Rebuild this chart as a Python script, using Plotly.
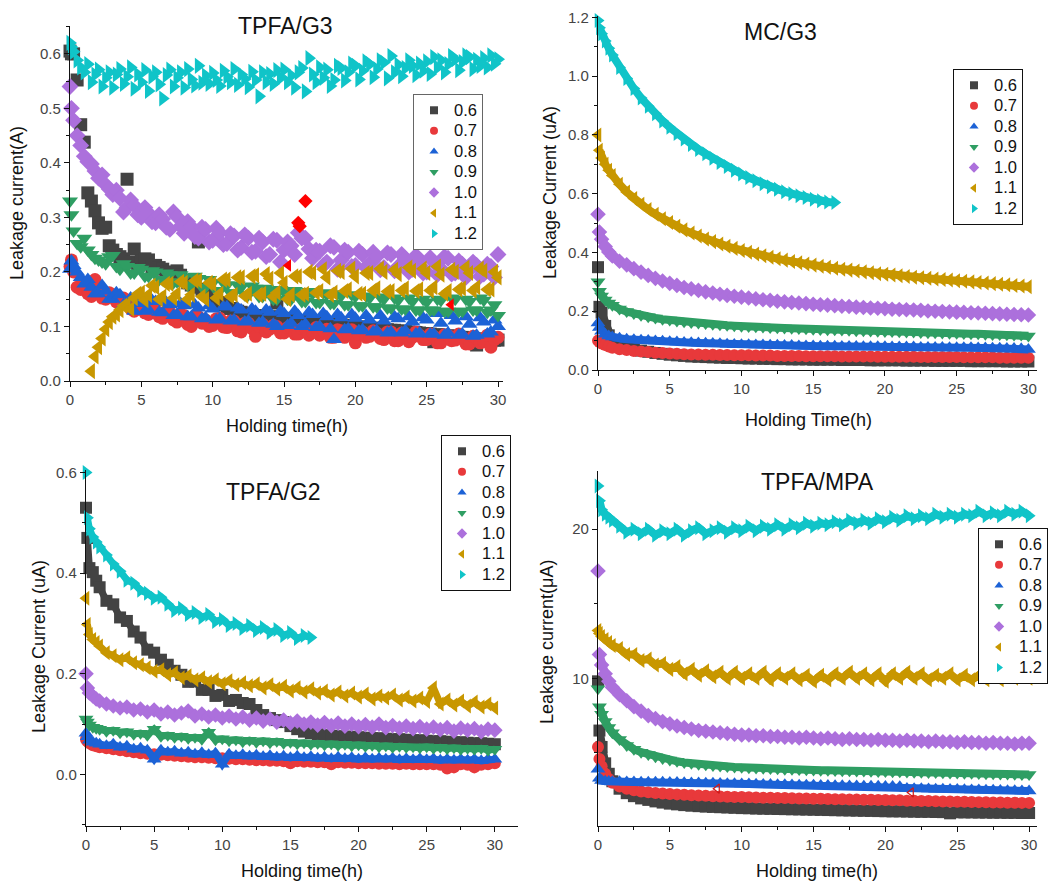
import plotly.graph_objects as go

# ---------------- shared data ----------------
NAMES = ["0.6", "0.7", "0.8", "0.9", "1.0", "1.1", "1.2"]
COLORS = ["#434343", "#e8393b", "#1c62d6", "#2f9e63", "#ac70dc", "#c89700", "#10c4c8"]
SYMBOLS = ["square", "circle", "triangle-up", "triangle-down", "diamond",
           "triangle-left", "triangle-right"]

# time grid (h) used by TPFA/G3
T1 = [0, 0.1, 0.25, 0.5, 0.75,
      1.0, 1.25, 1.5, 1.75, 2.0, 2.25, 2.5, 2.75,
      3.0, 3.25, 3.5, 3.75, 4.0, 4.25, 4.5, 4.75,
      5.0, 5.25, 5.5, 5.75, 6.0, 6.25, 6.5, 6.75,
      7.0, 7.25, 7.5, 7.75, 8.0, 8.25, 8.5, 8.75,
      9.0, 9.25, 9.5, 9.75, 10.0, 10.25, 10.5, 10.75,
      11.0, 11.25, 11.5, 11.75, 12.0, 12.25, 12.5, 12.75,
      13.0, 13.25, 13.5, 13.75, 14.0, 14.25, 14.5, 14.75,
      15.0, 15.25, 15.5, 15.75, 16.0, 16.25, 16.5, 16.75,
      17.0, 17.25, 17.5, 17.75, 18.0, 18.25, 18.5, 18.75,
      19.0, 19.25, 19.5, 19.75, 20.0, 20.25, 20.5, 20.75,
      21.0, 21.25, 21.5, 21.75, 22.0, 22.25, 22.5, 22.75,
      23.0, 23.25, 23.5, 23.75, 24.0, 24.25, 24.5, 24.75,
      25.0, 25.25, 25.5, 25.75, 26.0, 26.25, 26.5, 26.75,
      27.0, 27.25, 27.5, 27.75, 28.0, 28.25, 28.5, 28.75,
      29.0, 29.25, 29.5, 29.75, 30.0]

# time grid (h) used by the other three panels
T = [0, 0.1, 0.25, 0.5, 0.75,
     1.0, 1.5, 2.0, 2.5, 3.0, 3.5, 4.0, 4.5, 5.0, 5.5,
     6.0, 6.5, 7.0, 7.5, 8.0, 8.5, 9.0, 9.5, 10.0, 10.5,
     11.0, 11.5, 12.0, 12.5, 13.0, 13.5, 14.0, 14.5, 15.0, 15.5,
     16.0, 16.5, 17.0, 17.5, 18.0, 18.5, 19.0, 19.5, 20.0, 20.5,
     21.0, 21.5, 22.0, 22.5, 23.0, 23.5, 24.0, 24.5, 25.0, 25.5,
     26.0, 26.5, 27.0, 27.5, 28.0, 28.5, 29.0, 29.5, 30.0]

# ---------------- TPFA/G3 (A) ----------------
g3_06 = [0.605, 0.600, 0.600, 0.552, 0.470,
         0.438, 0.345, 0.330, 0.312, 0.290, 0.280, 0.282, 0.248,
         0.240, 0.232, 0.228, 0.224, 0.370, 0.218, 0.242, 0.214,
         0.220, 0.224, 0.222, 0.210, 0.212, 0.208, 0.205, 0.200,
         0.198, 0.196, 0.202, 0.194, 0.185, 0.180, 0.176, 0.172,
         0.255, 0.168, 0.164, 0.160, 0.152, 0.148, 0.144, 0.140,
         0.136, 0.133, 0.130, 0.128, 0.126, 0.124, 0.122, 0.121,
         0.120, 0.119, 0.118, 0.117, 0.116, 0.118, 0.143, 0.116,
         0.115, 0.114, 0.113, 0.112, 0.111, 0.110, 0.110, 0.109,
         0.108, 0.108, 0.107, 0.106, 0.106, 0.105, 0.104, 0.104,
         0.103, 0.102, 0.102, 0.101, 0.100, 0.099, 0.099, 0.098,
         0.097, 0.097, 0.096, 0.095, 0.095, 0.094, 0.093, 0.093,
         0.092, 0.091, 0.091, 0.090, 0.089, 0.089, 0.088, 0.087,
         0.087, 0.086, 0.072, 0.085, 0.084, 0.083, 0.083, 0.082,
         0.081, 0.081, 0.080, 0.079, 0.079, 0.078, 0.066, 0.077,
         0.077, 0.076, 0.076, 0.075, 0.075]
g3_07 = [0.210, 0.222, 0.200, 0.172, 0.168,
         0.178, 0.160, 0.155, 0.186, 0.168, 0.152, 0.150, 0.162,
         0.158, 0.145, 0.140, 0.152, 0.148, 0.132, 0.128, 0.140,
         0.138, 0.125, 0.122, 0.134, 0.130, 0.118, 0.115, 0.128,
         0.126, 0.112, 0.108, 0.122, 0.120, 0.104, 0.100, 0.118,
         0.118, 0.106, 0.112, 0.100, 0.102, 0.114, 0.115, 0.099,
         0.098, 0.110, 0.110, 0.092, 0.090, 0.106, 0.106, 0.096,
         0.082, 0.100, 0.104, 0.090, 0.095, 0.102, 0.100, 0.088,
         0.088, 0.098, 0.098, 0.086, 0.086, 0.096, 0.096, 0.084,
         0.090, 0.098, 0.084, 0.092, 0.095, 0.080, 0.080, 0.094,
         0.092, 0.080, 0.085, 0.094, 0.070, 0.086, 0.090, 0.080,
         0.082, 0.092, 0.088, 0.078, 0.076, 0.090, 0.090, 0.074,
         0.074, 0.088, 0.086, 0.072, 0.080, 0.090, 0.084, 0.076,
         0.076, 0.086, 0.082, 0.070, 0.070, 0.085, 0.084, 0.074,
         0.075, 0.086, 0.080, 0.068, 0.068, 0.082, 0.078, 0.070,
         0.072, 0.084, 0.062, 0.076, 0.080]
g3_08 = [0.205, 0.220, 0.212, 0.200, 0.190,
         0.178, 0.186, 0.172, 0.160, 0.160, 0.175, 0.165, 0.150,
         0.150, 0.162, 0.158, 0.140, 0.140, 0.152, 0.128, 0.145,
         0.142, 0.128, 0.130, 0.148, 0.146, 0.126, 0.125, 0.144,
         0.140, 0.120, 0.122, 0.142, 0.138, 0.118, 0.118, 0.140,
         0.134, 0.114, 0.116, 0.138, 0.132, 0.112, 0.114, 0.136,
         0.136, 0.110, 0.112, 0.134, 0.130, 0.108, 0.110, 0.132,
         0.128, 0.106, 0.108, 0.130, 0.126, 0.104, 0.100, 0.128,
         0.124, 0.102, 0.106, 0.128, 0.120, 0.100, 0.104, 0.126,
         0.122, 0.098, 0.100, 0.124, 0.118, 0.096, 0.076, 0.122,
         0.116, 0.094, 0.096, 0.122, 0.115, 0.092, 0.094, 0.120,
         0.112, 0.090, 0.092, 0.120, 0.110, 0.088, 0.090, 0.118,
         0.114, 0.088, 0.092, 0.118, 0.108, 0.086, 0.088, 0.116,
         0.112, 0.086, 0.086, 0.124, 0.106, 0.084, 0.088, 0.120,
         0.110, 0.084, 0.086, 0.118, 0.104, 0.082, 0.084, 0.116,
         0.108, 0.086, 0.090, 0.112, 0.100]
g3_09 = [0.330, 0.305, 0.275, 0.252, 0.246,
         0.262, 0.240, 0.232, 0.225, 0.222, 0.218, 0.215, 0.228,
         0.230, 0.210, 0.205, 0.215, 0.210, 0.198, 0.198, 0.208,
         0.205, 0.192, 0.192, 0.202, 0.200, 0.186, 0.186, 0.198,
         0.195, 0.180, 0.182, 0.195, 0.190, 0.176, 0.176, 0.192,
         0.188, 0.172, 0.172, 0.186, 0.180, 0.166, 0.166, 0.180,
         0.176, 0.162, 0.162, 0.176, 0.172, 0.158, 0.158, 0.174,
         0.170, 0.155, 0.155, 0.170, 0.166, 0.150, 0.150, 0.168,
         0.164, 0.150, 0.150, 0.166, 0.162, 0.146, 0.146, 0.164,
         0.160, 0.144, 0.144, 0.162, 0.158, 0.142, 0.142, 0.160,
         0.156, 0.140, 0.140, 0.158, 0.155, 0.138, 0.138, 0.156,
         0.152, 0.136, 0.136, 0.154, 0.150, 0.134, 0.134, 0.152,
         0.148, 0.132, 0.132, 0.152, 0.146, 0.130, 0.130, 0.150,
         0.145, 0.130, 0.130, 0.150, 0.148, 0.128, 0.128, 0.152,
         0.150, 0.128, 0.128, 0.150, 0.146, 0.130, 0.130, 0.152,
         0.148, 0.126, 0.130, 0.140, 0.120]
g3_10 = [0.540, 0.500, 0.478, 0.450, 0.432,
         0.412, 0.402, 0.398, 0.385, 0.372, 0.378, 0.360, 0.352,
         0.342, 0.350, 0.335, 0.310, 0.318, 0.332, 0.322, 0.305,
         0.300, 0.318, 0.308, 0.292, 0.290, 0.305, 0.297, 0.282,
         0.278, 0.310, 0.301, 0.284, 0.271, 0.292, 0.283, 0.265,
         0.262, 0.282, 0.278, 0.255, 0.258, 0.280, 0.272, 0.250,
         0.252, 0.270, 0.266, 0.240, 0.245, 0.268, 0.262, 0.236,
         0.238, 0.262, 0.255, 0.228, 0.232, 0.260, 0.258, 0.218,
         0.240, 0.255, 0.248, 0.232, 0.272, 0.262, 0.262, 0.242,
         0.225, 0.240, 0.238, 0.212, 0.218, 0.248, 0.245, 0.205,
         0.222, 0.240, 0.236, 0.210, 0.212, 0.238, 0.232, 0.208,
         0.215, 0.236, 0.228, 0.204, 0.208, 0.235, 0.232, 0.202,
         0.210, 0.232, 0.224, 0.200, 0.205, 0.230, 0.222, 0.198,
         0.200, 0.226, 0.218, 0.195, 0.206, 0.228, 0.225, 0.196,
         0.198, 0.220, 0.214, 0.190, 0.204, 0.218, 0.212, 0.192,
         0.196, 0.214, 0.210, 0.190, 0.232]
# 1.1 V series starts at 1.5 h (T1 from index 7)
g3_11 = [0.018, 0.045, 0.062, 0.078, 0.095, 0.108,
         0.118, 0.122, 0.130, 0.138, 0.140, 0.132, 0.152, 0.160,
         0.162, 0.148, 0.158, 0.175, 0.172, 0.150, 0.155, 0.178,
         0.178, 0.152, 0.160, 0.182, 0.180, 0.150, 0.158, 0.184,
         0.184, 0.155, 0.150, 0.180, 0.178, 0.152, 0.160, 0.186,
         0.186, 0.155, 0.158, 0.190, 0.190, 0.156, 0.160, 0.192,
         0.194, 0.158, 0.160, 0.196, 0.188, 0.155, 0.162, 0.198,
         0.180, 0.150, 0.158, 0.192, 0.192, 0.158, 0.160, 0.200,
         0.198, 0.162, 0.165, 0.205, 0.190, 0.158, 0.162, 0.202,
         0.200, 0.165, 0.168, 0.206, 0.192, 0.160, 0.160, 0.198,
         0.198, 0.166, 0.170, 0.206, 0.200, 0.164, 0.165, 0.204,
         0.196, 0.166, 0.170, 0.208, 0.202, 0.165, 0.168, 0.206,
         0.198, 0.166, 0.172, 0.210, 0.195, 0.160, 0.165, 0.204,
         0.200, 0.168, 0.170, 0.208, 0.198, 0.166, 0.172, 0.206,
         0.202, 0.168, 0.168, 0.200, 0.190]
g3_12 = [0.620, 0.612, 0.604, 0.588, 0.575,
         0.566, 0.581, 0.548, 0.562, 0.571, 0.540, 0.556, 0.566,
         0.538, 0.562, 0.572, 0.545, 0.558, 0.575, 0.536, 0.562,
         0.548, 0.570, 0.532, 0.558, 0.566, 0.544, 0.518, 0.561,
         0.571, 0.540, 0.556, 0.566, 0.538, 0.572, 0.553, 0.542,
         0.578, 0.547, 0.560, 0.545, 0.565, 0.552, 0.541, 0.569,
         0.558, 0.548, 0.572, 0.543, 0.562, 0.554, 0.539, 0.567,
         0.552, 0.522, 0.566, 0.548, 0.563, 0.545, 0.570, 0.556,
         0.571, 0.548, 0.560, 0.538, 0.566, 0.574, 0.531, 0.592,
         0.562, 0.548, 0.575, 0.556, 0.571, 0.541, 0.552, 0.578,
         0.574, 0.551, 0.566, 0.582, 0.578, 0.553, 0.569, 0.586,
         0.581, 0.557, 0.572, 0.588, 0.584, 0.555, 0.596, 0.566,
         0.580, 0.559, 0.574, 0.588, 0.578, 0.561, 0.582, 0.569,
         0.586, 0.563, 0.594, 0.575, 0.588, 0.566, 0.581, 0.596,
         0.590, 0.570, 0.585, 0.597, 0.594, 0.572, 0.589, 0.578,
         0.592, 0.575, 0.597, 0.582, 0.590]
# highlighted (red) points in TPFA/G3
g3_hl_t = [15.3, 16.0, 16.1, 16.5, 26.7]
g3_hl_v = [0.212, 0.290, 0.284, 0.330, 0.140]
g3_hl_sym = ["triangle-left", "diamond", "diamond", "diamond", "triangle-left"]

# ---------------- MC/G3 (uA) ----------------
mc_06 = [0.350, 0.215, 0.195, 0.150, 0.118,
         0.100, 0.088, 0.080, 0.072, 0.066, 0.062, 0.058, 0.055, 0.052, 0.050,
         0.048, 0.046, 0.045, 0.044, 0.043, 0.042, 0.041, 0.041, 0.040, 0.039,
         0.039, 0.038, 0.038, 0.037, 0.037, 0.036, 0.036, 0.036, 0.035, 0.035,
         0.035, 0.035, 0.034, 0.034, 0.034, 0.034, 0.033, 0.033, 0.033, 0.033,
         0.033, 0.032, 0.032, 0.032, 0.032, 0.031, 0.031, 0.031, 0.031, 0.031,
         0.030, 0.030, 0.030, 0.030, 0.030, 0.029, 0.029, 0.029, 0.029]
mc_07 = [0.100, 0.095, 0.090, 0.085, 0.080,
         0.076, 0.071, 0.068, 0.065, 0.063, 0.061, 0.059, 0.058, 0.056, 0.055,
         0.054, 0.053, 0.053, 0.052, 0.052, 0.051, 0.051, 0.050, 0.050, 0.050,
         0.049, 0.049, 0.049, 0.048, 0.048, 0.048, 0.048, 0.047, 0.047, 0.047,
         0.047, 0.047, 0.046, 0.046, 0.046, 0.046, 0.046, 0.045, 0.045, 0.045,
         0.045, 0.045, 0.045, 0.044, 0.044, 0.044, 0.044, 0.044, 0.044, 0.043,
         0.043, 0.043, 0.043, 0.043, 0.042, 0.042, 0.042, 0.042, 0.042]
mc_08 = [0.160, 0.145, 0.132, 0.122, 0.116,
         0.112, 0.108, 0.105, 0.103, 0.101, 0.100, 0.099, 0.098, 0.096, 0.095,
         0.094, 0.093, 0.092, 0.091, 0.090, 0.089, 0.088, 0.087, 0.086, 0.086,
         0.085, 0.085, 0.084, 0.084, 0.083, 0.083, 0.082, 0.082, 0.082, 0.081,
         0.081, 0.081, 0.080, 0.080, 0.080, 0.079, 0.079, 0.079, 0.079, 0.078,
         0.078, 0.078, 0.078, 0.077, 0.077, 0.077, 0.077, 0.076, 0.076, 0.076,
         0.076, 0.075, 0.075, 0.074, 0.074, 0.073, 0.073, 0.072, 0.070]
mc_09 = [0.300, 0.268, 0.252, 0.238, 0.228,
         0.220, 0.208, 0.199, 0.192, 0.186, 0.181, 0.177, 0.173, 0.170, 0.167,
         0.164, 0.162, 0.160, 0.158, 0.156, 0.154, 0.152, 0.151, 0.149, 0.148,
         0.147, 0.146, 0.145, 0.144, 0.143, 0.142, 0.141, 0.140, 0.139, 0.138,
         0.137, 0.137, 0.136, 0.135, 0.134, 0.134, 0.133, 0.132, 0.131, 0.131,
         0.130, 0.129, 0.129, 0.128, 0.127, 0.127, 0.126, 0.125, 0.125, 0.124,
         0.123, 0.123, 0.122, 0.121, 0.121, 0.120, 0.119, 0.119, 0.116]
mc_10 = [0.530, 0.470, 0.445, 0.420, 0.402,
         0.388, 0.370, 0.358, 0.345, 0.333, 0.322, 0.312, 0.303, 0.295, 0.288,
         0.281, 0.276, 0.271, 0.266, 0.262, 0.258, 0.254, 0.251, 0.248, 0.245,
         0.242, 0.239, 0.237, 0.234, 0.232, 0.230, 0.228, 0.226, 0.224, 0.222,
         0.221, 0.219, 0.217, 0.216, 0.214, 0.213, 0.211, 0.210, 0.209, 0.207,
         0.206, 0.205, 0.204, 0.203, 0.201, 0.200, 0.199, 0.198, 0.197, 0.196,
         0.195, 0.194, 0.193, 0.192, 0.191, 0.190, 0.189, 0.188, 0.187]
mc_11 = [0.800, 0.748, 0.722, 0.700, 0.680,
         0.662, 0.632, 0.606, 0.584, 0.564, 0.546, 0.530, 0.515, 0.502, 0.489,
         0.477, 0.466, 0.456, 0.446, 0.437, 0.429, 0.421, 0.414, 0.407, 0.401,
         0.395, 0.389, 0.384, 0.379, 0.374, 0.369, 0.365, 0.361, 0.357, 0.353,
         0.350, 0.346, 0.343, 0.340, 0.337, 0.334, 0.331, 0.328, 0.326, 0.323,
         0.321, 0.318, 0.316, 0.314, 0.312, 0.310, 0.308, 0.306, 0.304, 0.302,
         0.300, 0.298, 0.296, 0.294, 0.292, 0.290, 0.288, 0.286, 0.283]
mc_12 = [1.190, 1.165, 1.145, 1.120, 1.095,
         1.072, 1.030, 0.992, 0.958, 0.926, 0.898, 0.872, 0.848, 0.826, 0.805,
         0.786, 0.768, 0.751, 0.736, 0.721, 0.706, 0.693, 0.680, 0.667, 0.655,
         0.644, 0.634, 0.624, 0.615, 0.607, 0.600, 0.593, 0.587, 0.581, 0.576,
         0.572, 0.570]

# ---------------- TPFA/G2 (uA) ----------------
g2_06 = [0.530, 0.470, 0.410, 0.402, 0.385,
         0.372, 0.345, 0.338, 0.312, 0.305, 0.284, 0.272, 0.248, 0.242, 0.228,
         0.218, 0.206, 0.198, 0.184, 0.185, 0.168, 0.168, 0.156, 0.158, 0.146,
         0.148, 0.142, 0.140, 0.128, 0.118, 0.112, 0.108, 0.104, 0.096, 0.090,
         0.085, 0.082, 0.080, 0.078, 0.077, 0.076, 0.075, 0.075, 0.074, 0.073,
         0.072, 0.072, 0.071, 0.070, 0.070, 0.069, 0.068, 0.068, 0.067, 0.066,
         0.066, 0.065, 0.064, 0.064, 0.063, 0.062, 0.062, 0.061, 0.060]
g2_07 = [0.070, 0.066, 0.062, 0.058, 0.056,
         0.054, 0.052, 0.050, 0.048, 0.046, 0.044, 0.042, 0.041, 0.040, 0.039,
         0.038, 0.037, 0.036, 0.035, 0.034, 0.034, 0.033, 0.032, 0.032, 0.031,
         0.030, 0.030, 0.029, 0.028, 0.028, 0.027, 0.027, 0.026, 0.022, 0.026,
         0.025, 0.025, 0.024, 0.024, 0.020, 0.024, 0.023, 0.023, 0.022, 0.022,
         0.022, 0.021, 0.021, 0.021, 0.020, 0.021, 0.020, 0.020, 0.020, 0.020,
         0.019, 0.012, 0.014, 0.020, 0.019, 0.014, 0.019, 0.020, 0.022]
g2_08 = [0.082, 0.075, 0.068, 0.064, 0.062,
         0.060, 0.057, 0.060, 0.054, 0.056, 0.050, 0.052, 0.048, 0.030, 0.048,
         0.044, 0.046, 0.042, 0.044, 0.040, 0.043, 0.039, 0.042, 0.020, 0.040,
         0.037, 0.039, 0.036, 0.038, 0.035, 0.037, 0.034, 0.036, 0.033, 0.036,
         0.033, 0.035, 0.032, 0.034, 0.031, 0.034, 0.031, 0.033, 0.030, 0.033,
         0.030, 0.032, 0.030, 0.032, 0.029, 0.031, 0.029, 0.031, 0.029, 0.031,
         0.028, 0.030, 0.028, 0.030, 0.028, 0.030, 0.027, 0.030, 0.030]
g2_09 = [0.110, 0.104, 0.098, 0.094, 0.092,
         0.090, 0.086, 0.088, 0.083, 0.085, 0.080, 0.082, 0.078, 0.090, 0.076,
         0.078, 0.074, 0.076, 0.072, 0.074, 0.070, 0.084, 0.069, 0.071, 0.067,
         0.069, 0.065, 0.068, 0.064, 0.067, 0.063, 0.066, 0.062, 0.064, 0.061,
         0.063, 0.060, 0.062, 0.059, 0.061, 0.058, 0.060, 0.057, 0.059, 0.056,
         0.058, 0.055, 0.057, 0.054, 0.056, 0.054, 0.055, 0.053, 0.055, 0.052,
         0.054, 0.051, 0.053, 0.050, 0.052, 0.050, 0.052, 0.048, 0.050]
g2_10 = [0.200, 0.172, 0.162, 0.156, 0.150,
         0.146, 0.140, 0.136, 0.132, 0.134, 0.128, 0.130, 0.124, 0.128, 0.120,
         0.124, 0.118, 0.122, 0.126, 0.116, 0.120, 0.114, 0.118, 0.112, 0.116,
         0.110, 0.114, 0.108, 0.112, 0.106, 0.110, 0.104, 0.108, 0.102, 0.106,
         0.100, 0.104, 0.098, 0.103, 0.097, 0.102, 0.096, 0.100, 0.095, 0.099,
         0.094, 0.100, 0.093, 0.097, 0.092, 0.096, 0.091, 0.095, 0.090, 0.094,
         0.089, 0.093, 0.086, 0.092, 0.088, 0.091, 0.085, 0.090, 0.088]
g2_11 = [0.350, 0.298, 0.278, 0.268, 0.262,
         0.255, 0.242, 0.236, 0.228, 0.232, 0.222, 0.218, 0.212, 0.205, 0.208,
         0.198, 0.202, 0.192, 0.196, 0.188, 0.192, 0.184, 0.188, 0.180, 0.186,
         0.178, 0.182, 0.176, 0.180, 0.172, 0.178, 0.170, 0.175, 0.166, 0.172,
         0.164, 0.170, 0.162, 0.166, 0.158, 0.164, 0.156, 0.162, 0.154, 0.160,
         0.150, 0.156, 0.152, 0.158, 0.148, 0.154, 0.146, 0.152, 0.145, 0.172,
         0.140, 0.148, 0.138, 0.146, 0.136, 0.144, 0.134, 0.140, 0.132]
g2_12 = [0.600, 0.510, 0.488, 0.472, 0.462,
         0.452, 0.436, 0.418, 0.404, 0.386, 0.380, 0.366, 0.360, 0.350, 0.352,
         0.338, 0.326, 0.330, 0.318, 0.322, 0.312, 0.318, 0.304, 0.308, 0.296,
         0.300, 0.290, 0.296, 0.286, 0.292, 0.282, 0.288, 0.276, 0.282, 0.270,
         0.276, 0.272]

# ---------------- TPFA/MPA (uA) ----------------
mpa_06 = [9.8, 6.5, 5.4, 4.3, 3.6,
          3.1, 2.6, 2.3, 2.1, 1.95, 1.85, 1.75, 1.67, 1.6, 1.55,
          1.5, 1.46, 1.43, 1.4, 1.38, 1.36, 1.34, 1.32, 1.3, 1.29,
          1.27, 1.26, 1.25, 1.24, 1.23, 1.22, 1.21, 1.2, 1.19, 1.18,
          1.17, 1.16, 1.15, 1.14, 1.13, 1.12, 1.11, 1.1, 1.09, 1.08,
          1.08, 1.07, 1.06, 1.05, 1.05, 1.04, 1.03, 0.95, 1.02, 1.01,
          1.01, 1.0, 1.0, 0.99, 0.99, 0.98, 0.98, 0.97, 0.97]
mpa_07 = [5.4, 4.6, 4.1, 3.6, 3.25,
          3.0, 2.75, 2.6, 2.5, 2.42, 2.37, 2.32, 2.28, 2.25, 2.22,
          2.19, 2.16, 2.14, 2.12, 2.1, 2.08, 2.06, 2.05, 2.04, 2.02,
          2.01, 2.0, 1.99, 1.98, 1.97, 1.96, 1.95, 1.94, 1.93, 1.92,
          1.91, 1.9, 1.89, 1.88, 1.87, 1.86, 1.86, 1.85, 1.84, 1.83,
          1.82, 1.8, 1.79, 1.78, 1.77, 1.76, 1.75, 1.74, 1.73, 1.72,
          1.71, 1.7, 1.69, 1.68, 1.67, 1.66, 1.66, 1.65, 1.65]
mpa_08 = [3.9, 3.3, 3.15, 3.1, 3.08,
          3.07, 3.06, 3.05, 3.05, 3.04, 3.04, 3.03, 3.03, 3.02, 3.01,
          3.0, 2.99, 2.98, 2.97, 2.96, 2.95, 2.94, 2.93, 2.92, 2.91,
          2.9, 2.89, 2.88, 2.87, 2.86, 2.85, 2.84, 2.84, 2.83, 2.82,
          2.81, 2.8, 2.8, 2.79, 2.78, 2.77, 2.76, 2.76, 2.75, 2.74,
          2.73, 2.62, 2.6, 2.59, 2.58, 2.57, 2.56, 2.55, 2.54, 2.53,
          2.52, 2.51, 2.5, 2.49, 2.48, 2.47, 2.46, 2.45, 2.44]
mpa_09 = [9.3, 8.1, 7.6, 7.1, 6.7,
          6.35, 5.9, 5.5, 5.25, 5.05, 4.9, 4.75, 4.62, 4.52, 4.44,
          4.36, 4.3, 4.24, 4.2, 4.16, 4.12, 4.09, 4.06, 4.04, 4.01,
          3.99, 3.97, 3.95, 3.93, 3.91, 3.9, 3.88, 3.87, 3.85, 3.84,
          3.83, 3.82, 3.81, 3.8, 3.79, 3.78, 3.77, 3.76, 3.75, 3.74,
          3.73, 3.72, 3.71, 3.70, 3.69, 3.68, 3.67, 3.66, 3.65, 3.64,
          3.63, 3.62, 3.61, 3.60, 3.59, 3.58, 3.57, 3.56, 3.55]
mpa_10 = [17.2, 11.6, 10.9, 10.3, 9.8,
          9.4, 8.9, 8.5, 8.1, 7.8, 7.5, 7.3, 7.1, 6.95, 6.8,
          6.7, 6.6, 6.5, 6.45, 6.4, 6.35, 6.3, 6.25, 6.2, 6.2,
          6.15, 6.15, 6.1, 6.1, 6.05, 6.05, 6.0, 6.05, 6.0, 5.95,
          6.0, 5.95, 5.9, 5.95, 5.9, 5.9, 5.85, 5.9, 5.85, 5.85,
          5.8, 5.85, 5.8, 5.8, 5.75, 5.8, 5.75, 5.75, 5.7, 5.75,
          5.7, 5.7, 5.65, 5.7, 5.65, 5.65, 5.6, 5.65, 5.65]
mpa_11 = [13.2, 13.0, 12.8, 12.6, 12.4,
          12.2, 12.0, 11.6, 11.6, 11.2, 11.3, 10.9, 11.0, 10.6, 10.8,
          10.3, 10.6, 10.2, 10.5, 10.1, 10.4, 10.0, 10.4, 10.0, 10.3,
          10.0, 10.4, 9.9, 10.3, 10.0, 10.3, 9.9, 10.2, 9.8, 10.2,
          9.9, 10.3, 10.0, 10.4, 10.0, 10.3, 9.9, 10.3, 9.8, 10.3,
          10.0, 10.4, 10.0, 10.3, 9.9, 10.2, 10.0, 10.3, 9.9, 10.2,
          9.9, 10.2, 9.9, 10.2, 9.9, 10.2, 10.0, 10.3, 10.0]
mpa_12 = [22.9, 21.9, 21.3, 21.0, 20.8,
          20.6, 20.2, 19.8, 20.0, 19.7, 20.0, 19.6, 19.9, 19.7, 20.0,
          19.6, 19.9, 20.1, 19.7, 19.9, 20.1, 19.8, 20.1, 19.9, 20.2,
          19.9, 20.2, 20.0, 20.3, 20.0, 20.3, 20.1, 20.4, 20.2, 20.4,
          20.3, 20.5, 20.3, 20.6, 20.4, 20.6, 20.4, 20.7, 20.5, 20.8,
          20.6, 20.9, 20.7, 20.9, 20.7, 21.0, 20.8, 21.0, 20.8, 21.0,
          20.9, 21.2, 20.9, 21.1, 20.9, 21.2, 21.0, 21.2, 20.9]
mpa_hl_t = [8.3, 21.8]
mpa_hl_v = [2.6, 2.35]

# ---------------- figure ----------------
FONT = "Liberation Sans, Arial, sans-serif"
W, H = 1049, 883
fig = go.Figure()


def add_panel(series, xlists, xa, ya, leg, size, band=0):
    for k in range(7):
        y = series[k]
        x = xlists[k][:len(y)]
        if band:
            # the densely sampled points merge into a ribbon in the original
            fig.add_trace(go.Scatter(
                x=x[1:], y=y[1:], mode="lines", hoverinfo="skip",
                line=dict(color=COLORS[k], width=band),
                xaxis=xa, yaxis=ya, showlegend=False, cliponaxis=False))
        s = size + 1 if SYMBOLS[k].startswith("triangle") else size
        fig.add_trace(go.Scatter(
            x=x, y=y, mode="markers", name=NAMES[k],
            marker=dict(symbol=SYMBOLS[k], color=COLORS[k], size=s,
                        line=dict(width=0)),
            xaxis=xa, yaxis=ya, showlegend=False, cliponaxis=False))
    # legend entries (small symbols, like the reference legend boxes)
    for k in range(7):
        fig.add_trace(go.Scatter(
            x=[None], y=[None], mode="markers",
            name='<span style="font-size:16.5px">' + NAMES[k] + "</span>",
            marker=dict(symbol=SYMBOLS[k], color=COLORS[k], size=8,
                        line=dict(width=0)),
            xaxis=xa, yaxis=ya, legend=leg, showlegend=True))


add_panel([g3_06, g3_07, g3_08, g3_09, g3_10, g3_11, g3_12],
          [T1, T1, T1, T1, T1, T1[7:], T1], "x", "y", "legend", 13)
fig.add_trace(go.Scatter(x=g3_hl_t, y=g3_hl_v, mode="markers", showlegend=False,
                         marker=dict(symbol=g3_hl_sym, color="#ff0000", size=11,
                                     line=dict(width=0)),
                         xaxis="x", yaxis="y", cliponaxis=False))
add_panel([mc_06, mc_07, mc_08, mc_09, mc_10, mc_11, mc_12],
          [T] * 7, "x2", "y2", "legend2", 12, band=8)
add_panel([g2_06, g2_07, g2_08, g2_09, g2_10, g2_11, g2_12],
          [T] * 7, "x3", "y3", "legend3", 12, band=7)
add_panel([mpa_06, mpa_07, mpa_08, mpa_09, mpa_10, mpa_11, mpa_12],
          [T] * 7, "x4", "y4", "legend4", 12, band=8)
fig.add_trace(go.Scatter(x=mpa_hl_t, y=mpa_hl_v, mode="markers", showlegend=False,
                         marker=dict(symbol="triangle-left-open", color="#d01818",
                                     size=8, line=dict(width=1.2)),
                         xaxis="x4", yaxis="y4", cliponaxis=False))


def px(x):
    return x / W


def py(y):
    return 1 - y / H


def axis(domain, rng, dtick, minor, anchor, fmt=None, tick0=0):
    d = dict(domain=domain, range=rng, dtick=dtick, tick0=tick0, anchor=anchor,
             automargin=False,
             showline=True, linecolor="#111", linewidth=1.2, mirror=False,
             ticks="outside", ticklen=5, tickwidth=1.2, tickcolor="#111",
             showgrid=False, zeroline=False,
             tickfont=dict(family=FONT, size=15, color="#444"),
             minor=dict(ticks="outside", ticklen=3, tickwidth=1, tickcolor="#111",
                        dtick=minor, tick0=tick0, showgrid=False))
    if fmt:
        d["tickformat"] = fmt
    return d


layout = dict(
    width=W, height=H, margin=dict(l=0, r=0, t=0, b=0, autoexpand=False),
    paper_bgcolor="white", plot_bgcolor="white",
    font=dict(family=FONT, color="#111"),
    xaxis=axis([px(70), px(503)], [0, 30.35], 5, 2.5, "y"),
    yaxis=axis([py(381), py(26)], [0, 0.651], 0.1, 0.05, "x", ".1f"),
    xaxis2=axis([px(598), px(1037)], [0, 30.6], 5, 2.5, "y2"),
    yaxis2=axis([py(370), py(16)], [0, 1.205], 0.2, 0.1, "x2", ".1f"),
    xaxis3=axis([px(86), px(518)], [0, 31.7], 5, 2.5, "y3"),
    yaxis3=axis([py(826), py(470)], [-0.1025, 0.605], 0.2, 0.1, "x3", ".1f"),
    xaxis4=axis([px(598), px(1037)], [0, 30.55], 5, 2.5, "y4"),
    yaxis4=axis([py(826), py(471)], [0.1, 23.9], 10, 5, "x4"),
)

leg_common = dict(xanchor="left", yanchor="top", bgcolor="white", borderwidth=1,
                  font=dict(family=FONT, size=13.5, color="#111"),
                  itemsizing="trace", tracegroupgap=0)
layout["legend"] = dict(x=px(413), y=py(94), bordercolor="#666", **leg_common)
layout["legend2"] = dict(x=px(953), y=py(69), bordercolor="#111", **leg_common)
layout["legend3"] = dict(x=px(441), y=py(435), bordercolor="#111", **leg_common)
layout["legend4"] = dict(x=px(978), y=py(528), bordercolor="#111", **leg_common)

ann = []


def text(s, x, y, size, angle=0):
    ann.append(dict(text=s, x=px(x), y=py(y), xref="paper", yref="paper",
                    showarrow=False, xanchor="center", yanchor="middle",
                    textangle=angle, font=dict(family=FONT, size=size, color="#111")))


# panel titles
text("TPFA/G3", 285, 26, 23)
text("MC/G3", 780, 32, 23)
text("TPFA/G2", 273, 492, 23)
text("TPFA/MPA", 817, 482, 23)
# x-axis titles
text("Holding time(h)", 287, 426, 18)
text("Holding Time(h)", 808, 420, 18)
text("Holding time(h)", 302, 871, 18)
text("Holding time(h)", 817, 871, 18)
# y-axis titles
text("Leakage current(A)", 17, 203, 18, -90)
text("Leakage Current (uA)", 550, 193, 18, -90)
text("Leakage Current (uA)", 39, 647, 18, -90)
text("Leakage current(μA)", 547, 642, 18, -90)

layout["annotations"] = ann
fig.update_layout(**layout)
# the page's default 8px body margin would push the figure off its place
fig.write_html("out.html",
               config={"displayModeBar": False},
               post_script="document.body.style.margin='0';"
                           "document.body.style.overflow='hidden';")
